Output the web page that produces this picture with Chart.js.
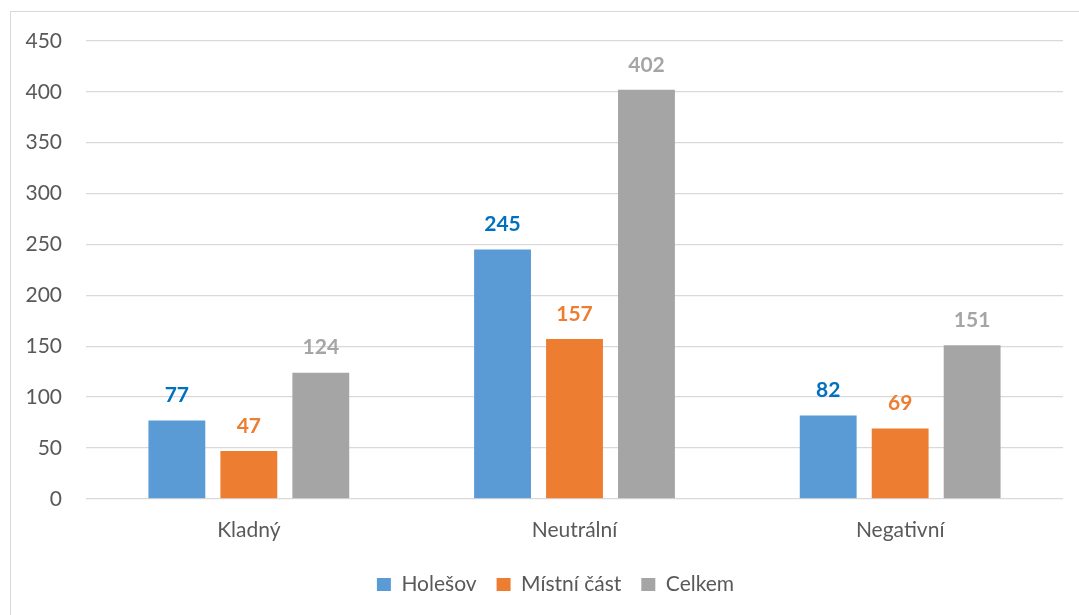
<!DOCTYPE html>
<html lang="cs">
<head>
<meta charset="utf-8">
<title>Hodnocení</title>
<script src="https://cdn.jsdelivr.net/npm/chart.js@4/dist/chart.umd.min.js"></script>
<style>
    html, body { margin: 0; padding: 0; background: #fff; }
    #wrap { position: relative; width: 1079px; height: 615px; overflow: hidden; }
    #frame { position: absolute; left: 10px; top: 11px; width: 1080px; height: 620px; border: 1px solid #d9d9d9; box-sizing: border-box; }
    canvas { position: absolute; left: 0; top: 0; }
</style>
</head>
<body>
<div id="wrap">
    <div id="frame"></div>
    <canvas id="graf" width="1079" height="615"></canvas>
</div>
<script>
// hodnoty grafu
var kategorie = ['Kladný', 'Neutrální', 'Negativní'];
var holesov = [77, 245, 82];
var mistniCast = [47, 157, 69];
var celkem = [124, 402, 151];
var osaY = [0, 50, 100, 150, 200, 250, 300, 350, 400, 450];

var pismo = 'Lato, "Open Sans", sans-serif';

// popisky hodnot nad sloupci
var popiskyHodnot = {
    id: 'popiskyHodnot',
    afterDatasetsDraw: function (chart) {
        var ctx = chart.ctx;
        ctx.save();
        ctx.font = 'bold 21px ' + pismo;
        ctx.textAlign = 'center';
        ctx.textBaseline = 'middle';
        chart.data.datasets.forEach(function (ds, i) {
            var meta = chart.getDatasetMeta(i);
            ctx.fillStyle = ds.barvaPopisku;
            meta.data.forEach(function (bar, j) {
                ctx.fillText(ds.data[j], bar.x, bar.y - 25);
            });
        });
        ctx.restore();
    }
};

// legenda vycentrovaná pod oblastí grafu, ne pod celým plátnem
var posunLegendy = {
    id: 'posunLegendy',
    afterLayout: function (chart) {
        var posun = (chart.chartArea.left + chart.chartArea.right) / 2 - (chart.legend.left + chart.legend.right) / 2 - 19;
        chart.legend.left += posun;
        chart.legend.right += posun;
    }
};

var ctx = document.getElementById('graf').getContext('2d');
var chart = new Chart(ctx, {
    type: 'bar',
    data: {
        labels: kategorie,
        datasets: [{
            label: 'Holešov',
            data: holesov,
            backgroundColor: '#5b9bd5',
            barvaPopisku: '#0070c0'
        }, {
            label: 'Místní část',
            data: mistniCast,
            backgroundColor: '#ed7d31',
            barvaPopisku: '#ed7d31'
        }, {
            label: 'Celkem',
            data: celkem,
            backgroundColor: '#a5a5a5',
            barvaPopisku: '#a5a5a5'
        }]
    },
    options: {
        responsive: false,
        animation: false,
        layout: { padding: { top: 41, right: 16, bottom: 10, left: 0 } },
        datasets: {
            bar: { barPercentage: 0.79, categoryPercentage: 0.663 }
        },
        plugins: {
            legend: {
                position: 'bottom',
                labels: {
                    boxWidth: 14,
                    boxHeight: 13,
                    padding: 20,
                    color: '#595959',
                    font: { family: pismo, size: 21 }
                }
            },
            tooltip: { enabled: false }
        },
        scales: {
            x: {
                grid: { display: false },
                border: { display: false },
                ticks: { color: '#595959', padding: 11, font: { family: pismo, size: 21 } }
            },
            y: {
                min: 0,
                max: 450,
                afterBuildTicks: function (scale) {
                    scale.ticks = osaY.map(function (v) { return { value: v }; });
                },
                afterFit: function (scale) { scale.width = 86; },
                grid: { color: '#d9d9d9', lineWidth: 1.3, drawTicks: false },
                border: { display: false },
                ticks: { color: '#595959', padding: 24, font: { family: pismo, size: 21 } }
            }
        }
    },
    plugins: [popiskyHodnot, posunLegendy]
});
</script>
</body>
</html>
